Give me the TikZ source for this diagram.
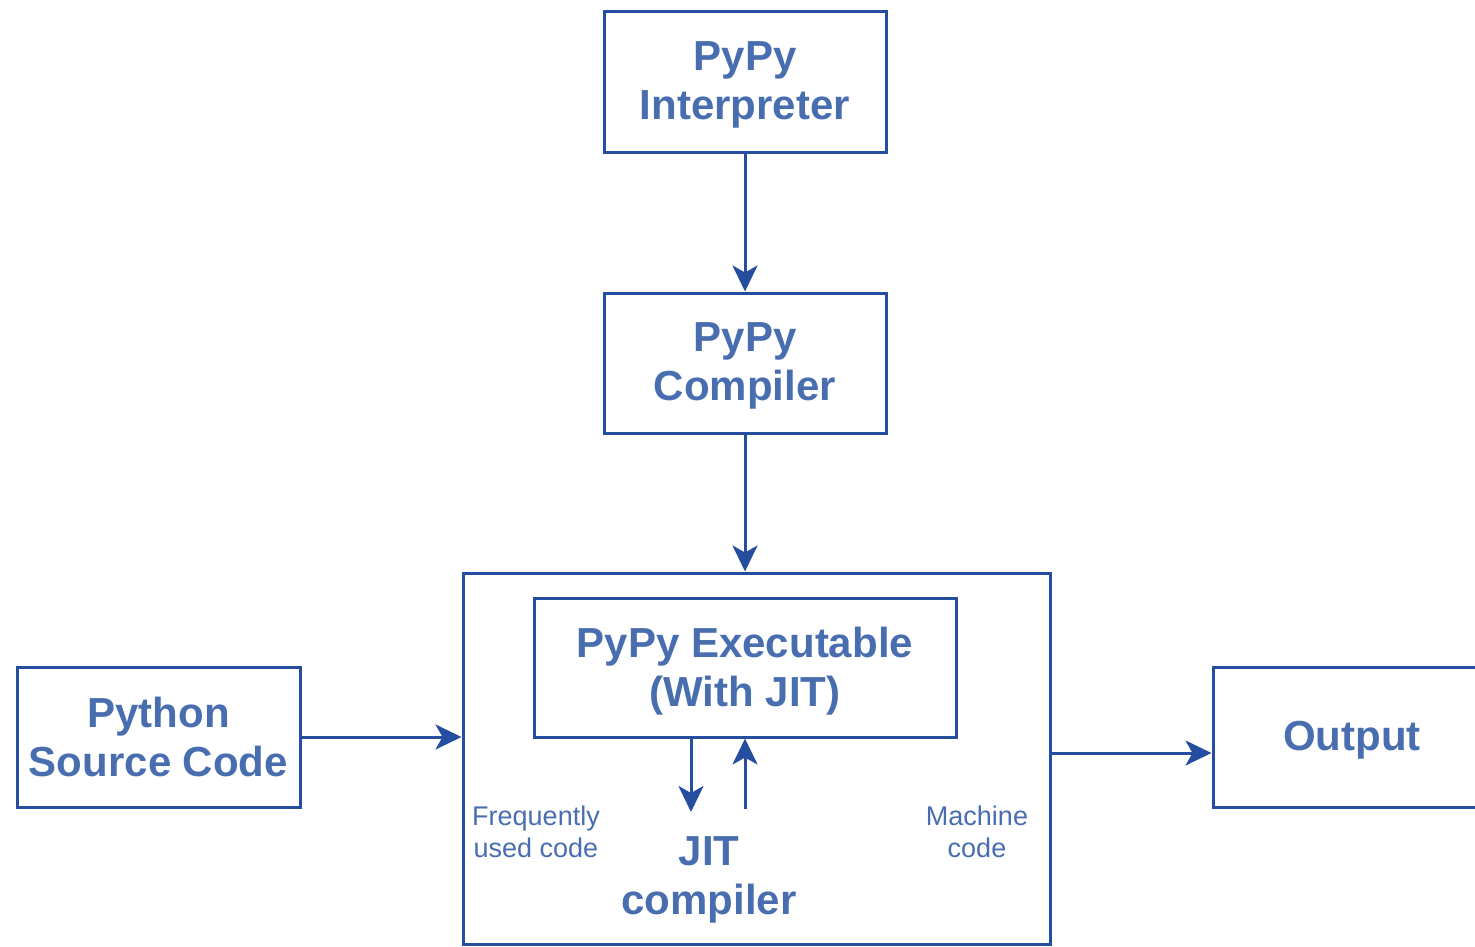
\documentclass[tikz,border=0pt]{standalone}
\usepackage{fontspec}
\setmainfont{Liberation Sans}
\usetikzlibrary{arrows.meta}
\definecolor{lineblue}{RGB}{38,78,160}
\definecolor{textblue}{RGB}{72,110,176}
\tikzset{
  box/.style={draw=lineblue, line width=3pt, inner sep=0pt},
  arr/.style={draw=lineblue, line width=3pt,
    -{Stealth[length=26pt,width=25pt,inset=7pt]}},
  big/.style={text=textblue, font=\bfseries\fontsize{42}{49}\selectfont, align=center, inner sep=0pt},
  small/.style={text=textblue, font=\fontsize{27}{32}\selectfont, align=center, inner sep=0pt}
}
\begin{document}
\begin{tikzpicture}[x=1pt,y=-1pt]
\useasboundingbox (0,0) rectangle (1475,946);
\node[box, minimum width=282pt, minimum height=141pt,
  label={[big,yshift=-3pt]center:PyPy\\Interpreter}] (interp) at (745,81.5) {};
\node[box, minimum width=282pt, minimum height=140pt,
  label={[big,yshift=-3pt]center:PyPy\\Compiler}] (comp) at (745,363) {};
\node[box, minimum width=587pt, minimum height=371pt] (outer) at (756.5,758.5) {};
\node[box, minimum width=422pt, minimum height=139pt,
  label={[big,yshift=-4pt]center:PyPy Executable\\(With JIT)}] (exe) at (745,667.5) {};
\node[box, minimum width=283pt, minimum height=140pt,
  label={[big]center:Python\\Source Code}] (src) at (158.5,737) {};
\node[box, minimum width=278pt, minimum height=140pt,
  label={[big,yshift=-3pt]center:Output}] (out) at (1352,737) {};
\node[big] (jit) at (709,880) {JIT\\compiler};
\node[small] (freq) at (536,832) {Frequently\\used code};
\node[small] (mach) at (977,832) {Machine\\code};
\draw[arr] (interp.south) -- (comp.north);
\draw[arr] (comp.south) -- (comp.south |- outer.north);
\draw[arr] (src.east) -- (src.east -| outer.west);
\coordinate (oy) at (1100,753);
\draw[arr] (oy -| outer.east) -- (oy -| out.west);
\coordinate (d1) at (691,812);
\coordinate (u1) at (745,809);
\draw[arr] (exe.south -| d1) -- (d1);
\draw[arr] (u1) -- (exe.south -| u1);
\end{tikzpicture}
\end{document}
